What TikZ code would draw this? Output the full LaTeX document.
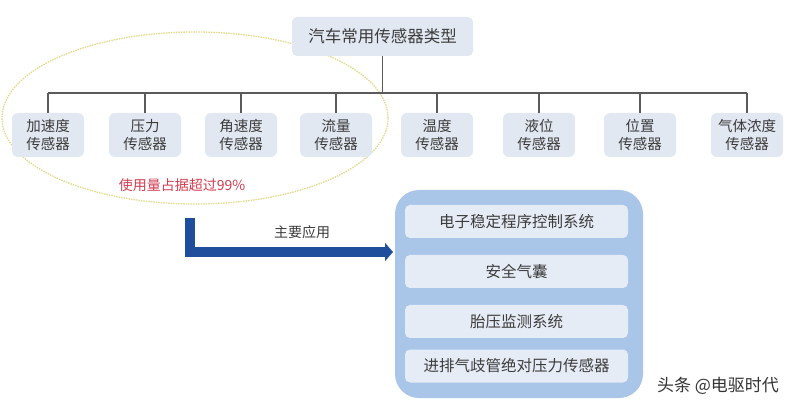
\documentclass[tikz,border=0pt]{standalone}
\usepackage{fontspec}
\setmainfont{Noto Sans CJK SC}
\usetikzlibrary{arrows.meta}
\definecolor{boxfill}{HTML}{E2E8F1}
\definecolor{txt}{HTML}{3C3C3C}
\definecolor{linec}{HTML}{5A5A5A}
\definecolor{ellc}{HTML}{E4DA8C}
\definecolor{redtxt}{HTML}{D23C50}
\definecolor{arrowblue}{HTML}{1E4E9C}
\definecolor{panel}{HTML}{A9C6E8}
\definecolor{inner}{HTML}{E6ECF5}
\begin{document}
\begin{tikzpicture}[x=1pt,y=-1pt,
  topbox/.style={draw=none, fill=boxfill, rounded corners=5pt, minimum width=181pt, minimum height=39pt, inner sep=0pt, text=txt, font=\fontsize{16.5}{18}\selectfont},
  kidbox/.style={draw=none, fill=boxfill, rounded corners=6pt, minimum width=72pt, minimum height=44pt, inner sep=0pt, align=center, text=txt, font=\fontsize{14.5}{18}\selectfont},
  conn/.style={draw=linec, line width=1.2pt},
  appbox/.style={draw=none, fill=inner, rounded corners=5pt, minimum width=223pt, minimum height=33pt, inner sep=0pt, text=txt, font=\fontsize{15.5}{17}\selectfont},
  bigarrow/.style={draw=arrowblue, line width=10pt, -{Triangle[length=8pt,width=18pt]}}
]
\useasboundingbox (0,0) rectangle (800,411);
\fill[white] (0,0) rectangle (800,411);

% ellipse highlight
\draw[ellc, line width=1.3pt, dash pattern=on 1.5pt off 1pt] (195,118) ellipse [x radius=193pt, y radius=86pt];

% top node
\node[topbox] (top) at (382.5,36.5) {汽车常用传感器类型};

% children
\node[kidbox] (c1) at (48,135) {加速度\\传感器};
\node[kidbox] (c2) at (145,135) {压力\\传感器};
\node[kidbox] (c3) at (241,135) {角速度\\传感器};
\node[kidbox] (c4) at (336,135) {流量\\传感器};
\node[kidbox] (c5) at (437,135) {温度\\传感器};
\node[kidbox] (c6) at (539,135) {液位\\传感器};
\node[kidbox] (c7) at (640,135) {位置\\传感器};
\node[kidbox] (c8) at (747,135) {气体浓度\\传感器};

% tree connectors
\coordinate (bus) at (0,93);
\draw[conn] (top.south) -- (top.south |- bus);
\draw[conn] (c1.north |- bus) -- (c8.north |- bus);
\foreach \k in {c1,c2,c3,c4,c5,c6,c7,c8}{
  \draw[conn] (\k.north) -- (\k.north |- bus);
}

% red note
\node[text=redtxt, font=\fontsize{14}{16}\selectfont, inner sep=0pt] (note) at (182,185) {使用量占据超过99\%};

% application panel
\node[fill=panel, rounded corners=24pt, minimum width=248pt, minimum height=208pt, inner sep=0pt] (panel) at (519,294) {};
\node[appbox] (a1) at (516.5,221.5) {电子稳定程序控制系统};
\node[appbox] (a2) at (516.5,271.5) {安全气囊};
\node[appbox] (a3) at (516.5,321.5) {胎压监测系统};
\node[appbox] (a4) at (516.5,366) {进排气歧管绝对压力传感器};

% main arrow
\coordinate (arrs) at (190,218);
\coordinate (arre) at (393,252);
\draw[bigarrow] (arrs) |- (arre);
\node[text=txt, font=\fontsize{14}{16}\selectfont, inner sep=0pt] (lbl) at (302,232) {主要应用};

% watermark
\node[text=black!80, font=\fontsize{17}{20}\selectfont, inner sep=0pt] (wm) at (718,386) {头条 @电驱时代};
\end{tikzpicture}
\end{document}
